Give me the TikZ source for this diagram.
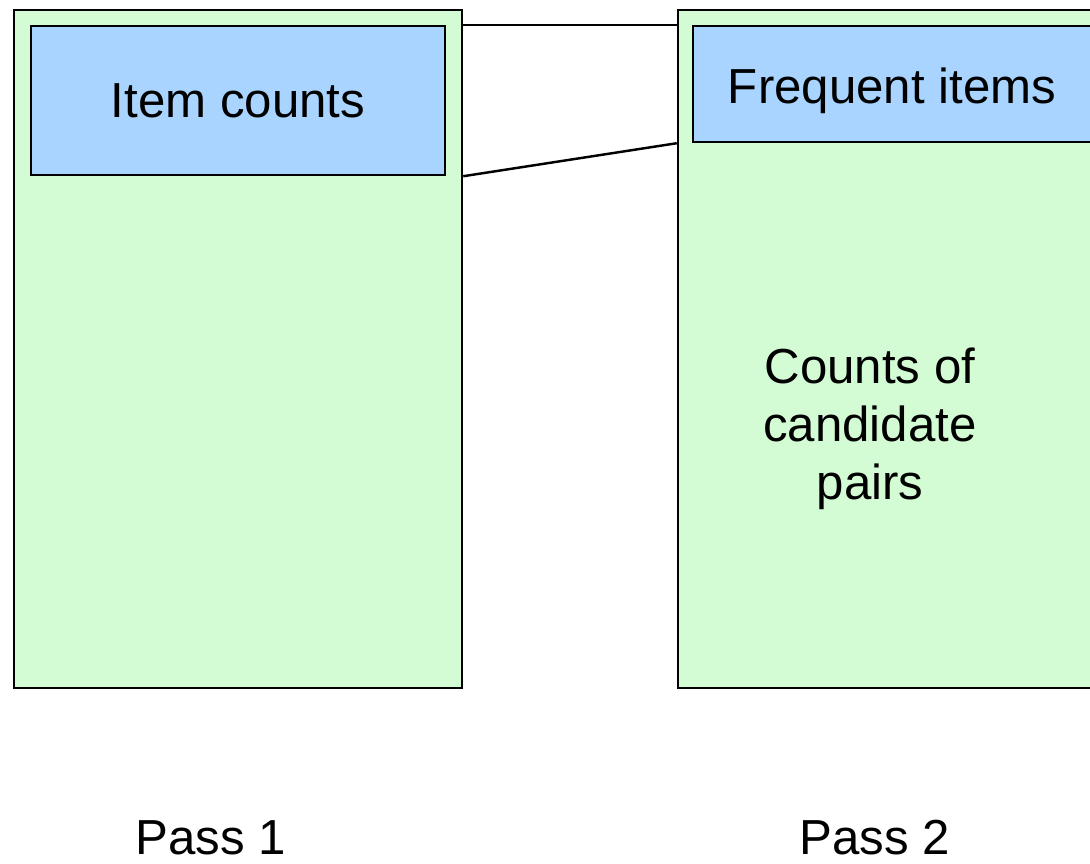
\documentclass[tikz,border=0pt]{standalone}
\usepackage{fontspec}
\setmainfont{Liberation Sans}
\usetikzlibrary{positioning}
\definecolor{memfill}{HTML}{D4FCD4}
\definecolor{itemfill}{HTML}{A8D4FF}
\definecolor{ink}{HTML}{000000}
\tikzset{
  memory/.style={
    draw=ink,
    fill=memfill,
    line width=1.4pt,
    inner sep=0pt
  },
  itembox/.style={
    draw=ink,
    fill=itemfill,
    line width=1.4pt,
    inner sep=0pt,
    text depth=0pt,
    align=center
  },
  handover/.style={draw=ink,line width=1.4pt},
  every node/.append style={font=\fontsize{28}{33}\selectfont,text=ink}
}

\begin{document}
\begin{tikzpicture}[x=0.02cm,y=-0.02cm]
  \useasboundingbox (0,0) rectangle (1090,864);

  % pass 1
  \node[memory,minimum width=448*0.02cm,minimum height=678*0.02cm]
    (mem1) at (238,349) {};
  \node[itembox,minimum width=414*0.02cm,minimum height=149*0.02cm]
    (counts) at (238,100.5) {Item counts};

  % pass 2
  \node[memory,minimum width=432*0.02cm,minimum height=678*0.02cm]
    (mem2) at (894,349) {};
  \node[itembox,minimum width=398*0.02cm,minimum height=116*0.02cm,
    text height=22pt]
    (freq) at (892,84) {Frequent items};
  \node[align=center] (pairs) at (870,429) {Counts of\\candidate\\pairs};

  \draw[handover] (mem1.east |- counts.north) -- (mem2.west |- freq.north);
  \draw[handover] (mem1.east |- counts.south) -- (mem2.west |- freq.south);

  \node[anchor=base] (pass1) at (211,855) {Pass 1};
  \node[anchor=base] (pass2) at (875,855) {Pass 2};
\end{tikzpicture}
\end{document}
